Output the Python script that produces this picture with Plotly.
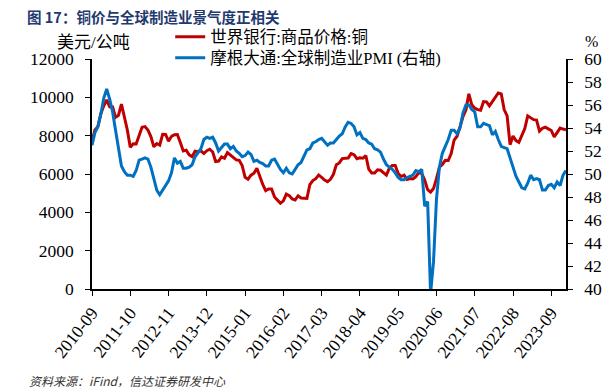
import plotly.graph_objects as go

# Monthly categories 2010-09 .. 2024-02
months = []
y, m = 2010, 9
while (y, m) <= (2024, 2):
    months.append(f"{y}-{m:02d}")
    m += 1
    if m > 12:
        m = 1
        y += 1

copper = [
    7709, 8292, 8470, 9147,
    9556, 9868, 9503, 9493, 8960, 9067, 9650, 9001, 8300, 7394, 7581, 7565,
    8040, 8441, 8471, 8290, 7955, 7423, 7585, 7510, 8069, 8061, 7712, 7966,
    8047, 8061, 7645, 7203, 7245, 7000, 6907, 7186, 7159, 7203, 7071, 7215,
    7291, 7149, 6650, 6674, 6891, 6821, 7113, 7002, 6872, 6737, 6713, 6446,
    5831, 5729, 5940, 6042, 6295, 5833, 5457, 5127, 5217, 5216, 4800, 4638,
    4472, 4599, 4954, 4873, 4695, 4642, 4864, 4751, 4722, 4731, 5450, 5660,
    5755, 5941, 5825, 5684, 5600, 5720, 5985, 6486, 6578, 6802, 6824, 6834,
    7066, 7006, 6799, 6843, 6823, 6965, 6250, 6052, 6050, 6221, 6196, 6073,
    5939, 6300, 6439, 6441, 6030, 5870, 5942, 5710, 5760, 5738, 5858, 6080,
    6031, 5688, 5183, 5058, 5239, 5755, 6354, 6497, 6712, 6704, 7069, 7772,
    7970, 8460, 8988, 9336, 10184, 9612, 9433, 9357, 9324, 9778, 9765, 9551,
    9776, 9941, 10231, 10183, 9361, 9033, 7530, 7982, 7746, 7651, 8049, 8367,
    9036, 8955, 8835, 8814, 8234, 8386, 8443, 8353, 8270, 7940, 8172, 8394,
    8344, 8310,
]

pmi = [
    52.5, 53.6, 54.1, 55.2,
    56.6, 57.4, 56.5, 55.4, 53.8, 52.2, 50.7, 50.2, 49.9, 49.9, 49.8, 50.3,
    51.2, 51.3, 51.4, 51.3, 50.6, 49.6, 48.6, 48.2, 48.6, 48.9, 49.4, 50.1,
    51.4, 50.95, 51.1, 50.5, 50.5, 50.6, 50.8, 51.5, 51.9, 52.2, 53.0, 53.2,
    53.1, 53.2, 52.7, 52.0, 52.3, 52.6, 52.6, 52.2, 52.4, 52.0, 51.8, 51.5,
    51.6, 51.9, 51.7, 51.1, 51.2, 51.0, 50.9, 50.7, 50.7, 51.2, 51.3, 50.8,
    50.4, 50.1, 50.5, 50.1, 50.0, 50.4, 50.8, 51.0, 51.5, 52.1, 52.2, 52.7,
    52.8, 53.0, 53.1, 52.8, 52.5, 52.7, 52.7, 53.0, 53.3, 53.5, 54.1, 54.5,
    54.4, 54.1, 53.4, 53.6, 53.1, 53.0, 52.7, 52.6, 52.2, 52.1, 51.9, 51.3,
    50.8, 50.6, 50.4, 50.1, 49.7, 49.5, 49.5, 49.7, 49.8, 49.9, 50.3, 50.2,
    50.4, 47.2, 47.6, 39.6, 42.4, 47.8, 50.6, 51.8, 52.4, 53.0, 53.8, 53.8,
    53.5, 54.0, 55.3, 56.0, 56.0, 55.6, 55.4, 54.1, 54.1, 54.4, 54.3, 54.2,
    53.4, 53.7, 53.0, 52.4, 52.3, 52.2, 51.4, 50.6, 49.8, 49.3, 48.8, 48.7,
    49.2, 49.9, 49.5, 49.6, 49.5, 48.6, 48.6, 49.0, 49.1, 48.8, 49.3, 49.0,
    49.9, 50.3,
]

tick_labels = months[::13]

name_cu = "世界银行:商品价格:铜"
name_pmi = "摩根大通:全球制造业PMI (右轴)"

SERIF = "Liberation Serif, Times New Roman, Noto Sans CJK SC, serif"
TICKSIZE = 17.5

fig = go.Figure()
fig.add_trace(go.Scatter(x=months, y=copper, name=name_cu, mode="lines",
                         line=dict(color="#C00000", width=3), legend="legend"))
fig.add_trace(go.Scatter(x=months, y=pmi, name=name_pmi, mode="lines", yaxis="y2",
                         line=dict(color="#0070C0", width=3), legend="legend2"))

legend_common = dict(xanchor="left", yanchor="middle", bgcolor="rgba(0,0,0,0)",
                     font=dict(family=SERIF, size=16.5), itemwidth=30)

fig.update_layout(
    width=615, height=388,
    margin=dict(l=92, r=49, t=59, b=99),
    paper_bgcolor="white", plot_bgcolor="white",
    font=dict(family=SERIF, size=16, color="black"),
    xaxis=dict(type="category", range=[0, len(months) - 1],
               tickmode="array", tickvals=tick_labels, ticktext=tick_labels,
               tickangle=-52, ticks="outside", ticklen=5, tickcolor="black",
               showline=True, linecolor="black", linewidth=1.5,
               showgrid=False, zeroline=False,
               tickfont=dict(family=SERIF, size=TICKSIZE)),
    yaxis=dict(range=[0, 12000], dtick=2000, ticks="outside", ticklen=5,
               tickcolor="black", showline=True, linecolor="black", linewidth=1.5,
               showgrid=False, zeroline=False, tickformat="d", ticklabelstandoff=8,
               tickfont=dict(family=SERIF, size=TICKSIZE)),
    yaxis2=dict(range=[40, 60], dtick=2, overlaying="y", side="right",
                ticks="outside", ticklen=5, tickcolor="black",
                showline=True, linecolor="black", linewidth=1.5,
                showgrid=False, zeroline=False, ticklabelstandoff=8,
                tickfont=dict(family=SERIF, size=TICKSIZE)),
    showlegend=True,
    legend=dict(x=0.165, y=(289 - 37) / 230, **legend_common),
    legend2=dict(x=0.165, y=(289 - 58) / 230, **legend_common),
    title=dict(text="<b>图 17：铜价与全球制造业景气度正相关</b>",
               xref="container", yref="container", x=27 / 615, xanchor="left",
               y=1 - 18 / 388, yanchor="middle",
               font=dict(family="Noto Sans CJK SC", size=14.5, color="#1F3A6E")),
    annotations=[
        dict(text="美元/公吨", xref="paper", yref="paper", x=0.004, y=(289 - 42) / 230,
             showarrow=False, xanchor="center", yanchor="middle",
             font=dict(family=SERIF, size=17)),
        dict(text="%", xref="paper", yref="paper", x=(591 - 92) / 474, y=(289 - 41) / 230,
             showarrow=False, xanchor="center", yanchor="middle",
             font=dict(family=SERIF, size=16)),
        dict(text="<i>资料来源：iFind，信达证券研发中心</i>", xref="paper", yref="paper",
             x=(27 - 92) / 474, y=(289 - 380) / 230, showarrow=False,
             xanchor="left", yanchor="middle",
             font=dict(family="Noto Sans CJK SC", size=12, color="#333333")),
    ],
)

fig.write_html("out.html", post_script="document.body.style.margin='0';",
               config={"displayModeBar": False})
